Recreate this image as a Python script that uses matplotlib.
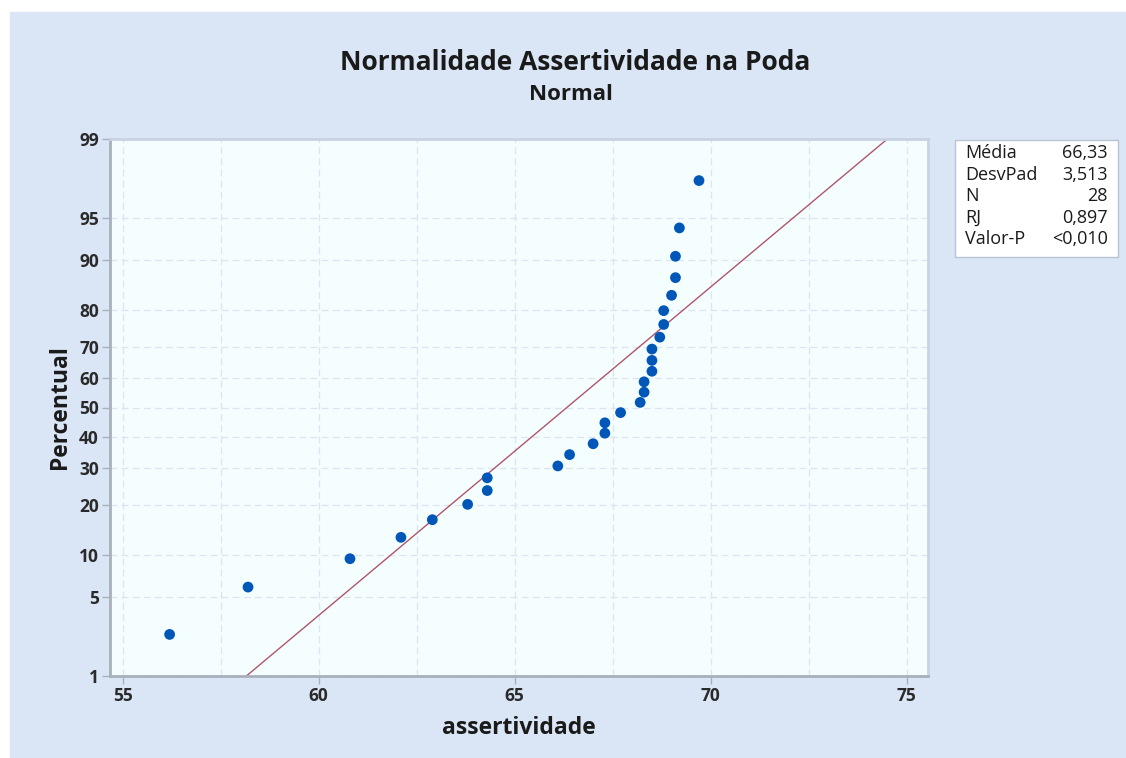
import matplotlib
matplotlib.use("Agg")
import matplotlib.pyplot as plt
from matplotlib.patches import Rectangle
from statistics import NormalDist
import numpy as np

plt.rcParams["font.family"] = ["Open Sans", "DejaVu Sans"]

# Data
assertividade = [56.2, 58.2, 60.8, 62.1, 62.9, 63.8, 64.3, 64.3, 66.1, 66.4,
                 67.0, 67.3, 67.3, 67.7, 68.2, 68.3, 68.3, 68.5, 68.5, 68.5,
                 68.7, 68.8, 68.8, 69.0, 69.1, 69.1, 69.2, 69.7]
media = 66.33
desvpad = 3.513
y_ticks = [1, 5, 10, 20, 30, 40, 50, 60, 70, 80, 90, 95, 99]
x_ticks = [55, 60, 65, 70, 75]
stats_labels = ["Média", "DesvPad", "N", "RJ", "Valor-P"]
stats_values = ["66,33", "3,513", "28", "0,897", "<0,010"]

nd = NormalDist()
n = len(assertividade)
x = np.sort(np.array(assertividade))
# median ranks, probit scale
z = [nd.inv_cdf((i - 0.3) / (n + 0.4)) for i in range(1, n + 1)]

bg = "#dae6f6"
fig = plt.figure(figsize=(11.26, 7.58), dpi=100, facecolor="white")
fig.patches.append(Rectangle((10 / 1126, 0), 1, 1 - 12 / 758,
                             transform=fig.transFigure, color=bg, zorder=-10))

ax = fig.add_axes([110 / 1126, 82 / 758, 818 / 1126, 537 / 758])
ax.set_facecolor("#f5feff")

# fitted line
zl = np.array([nd.inv_cdf(0.01), nd.inv_cdf(0.99)])
ax.plot(media + zl * desvpad, zl, color="#b0556a", lw=1.0, zorder=2)

ax.scatter(x, z, s=60, color="#0057b8", zorder=3, edgecolors="none")

ax.set_xlim(54.68, 75.54)
ax.set_ylim(nd.inv_cdf(0.01), nd.inv_cdf(0.99))

ax.set_xticks(x_ticks)
ax.set_xticks(np.arange(57.5, 75, 5), minor=True)
ax.set_yticks([nd.inv_cdf(p / 100) for p in y_ticks])
ax.set_yticklabels([str(p) for p in y_ticks])

ax.grid(True, which="both", axis="x", color="#dde5f3", ls=(0, (5, 3)), lw=1)
ax.grid(True, axis="y", color="#dde5f3", ls=(0, (5, 3)), lw=1)
ax.tick_params(axis="x", which="minor", length=0)
ax.tick_params(which="major", length=6, width=1, color="#a8b0bc",
               labelsize=12.5, labelcolor="#2a2a2a", pad=2)
for lbl in ax.get_xticklabels() + ax.get_yticklabels():
    lbl.set_fontweight("bold")

for side in ["left", "bottom"]:
    ax.spines[side].set_color("#a8b0bc")
    ax.spines[side].set_linewidth(2)
for side in ["top", "right"]:
    ax.spines[side].set_color("#c8d2e2")
    ax.spines[side].set_linewidth(2)

ax.set_xlabel("assertividade", fontsize=16.5, fontweight="bold", color="#1a1a1a",
              labelpad=8)
ax.set_ylabel("Percentual", fontsize=16.5, fontweight="bold", color="#1a1a1a",
              labelpad=5)

fig.text(575 / 1126, 1 - 62 / 758, "Normalidade Assertividade na Poda",
         ha="center", va="center", fontsize=19, fontweight="bold", color="#1a1a1a")
fig.text(571 / 1126, 1 - 94 / 758, "Normal", ha="center", va="center",
         fontsize=16, fontweight="bold", color="#1a1a1a")

# stats box
fig.patches.append(Rectangle((955 / 1126, 1 - 257 / 758), 163 / 1126, 117 / 758,
                             transform=fig.transFigure, facecolor="white",
                             edgecolor="#b8c4d6", lw=1))
for i, (lab, val) in enumerate(zip(stats_labels, stats_values)):
    yy = 1 - (153 + i * 21.5) / 758
    fig.text(965 / 1126, yy, lab, ha="left", va="center", fontsize=13,
             color="#1a1a1a")
    fig.text(1108 / 1126, yy, val, ha="right", va="center", fontsize=13,
             color="#1a1a1a")

fig.savefig("out.png", dpi=100, facecolor="white")
